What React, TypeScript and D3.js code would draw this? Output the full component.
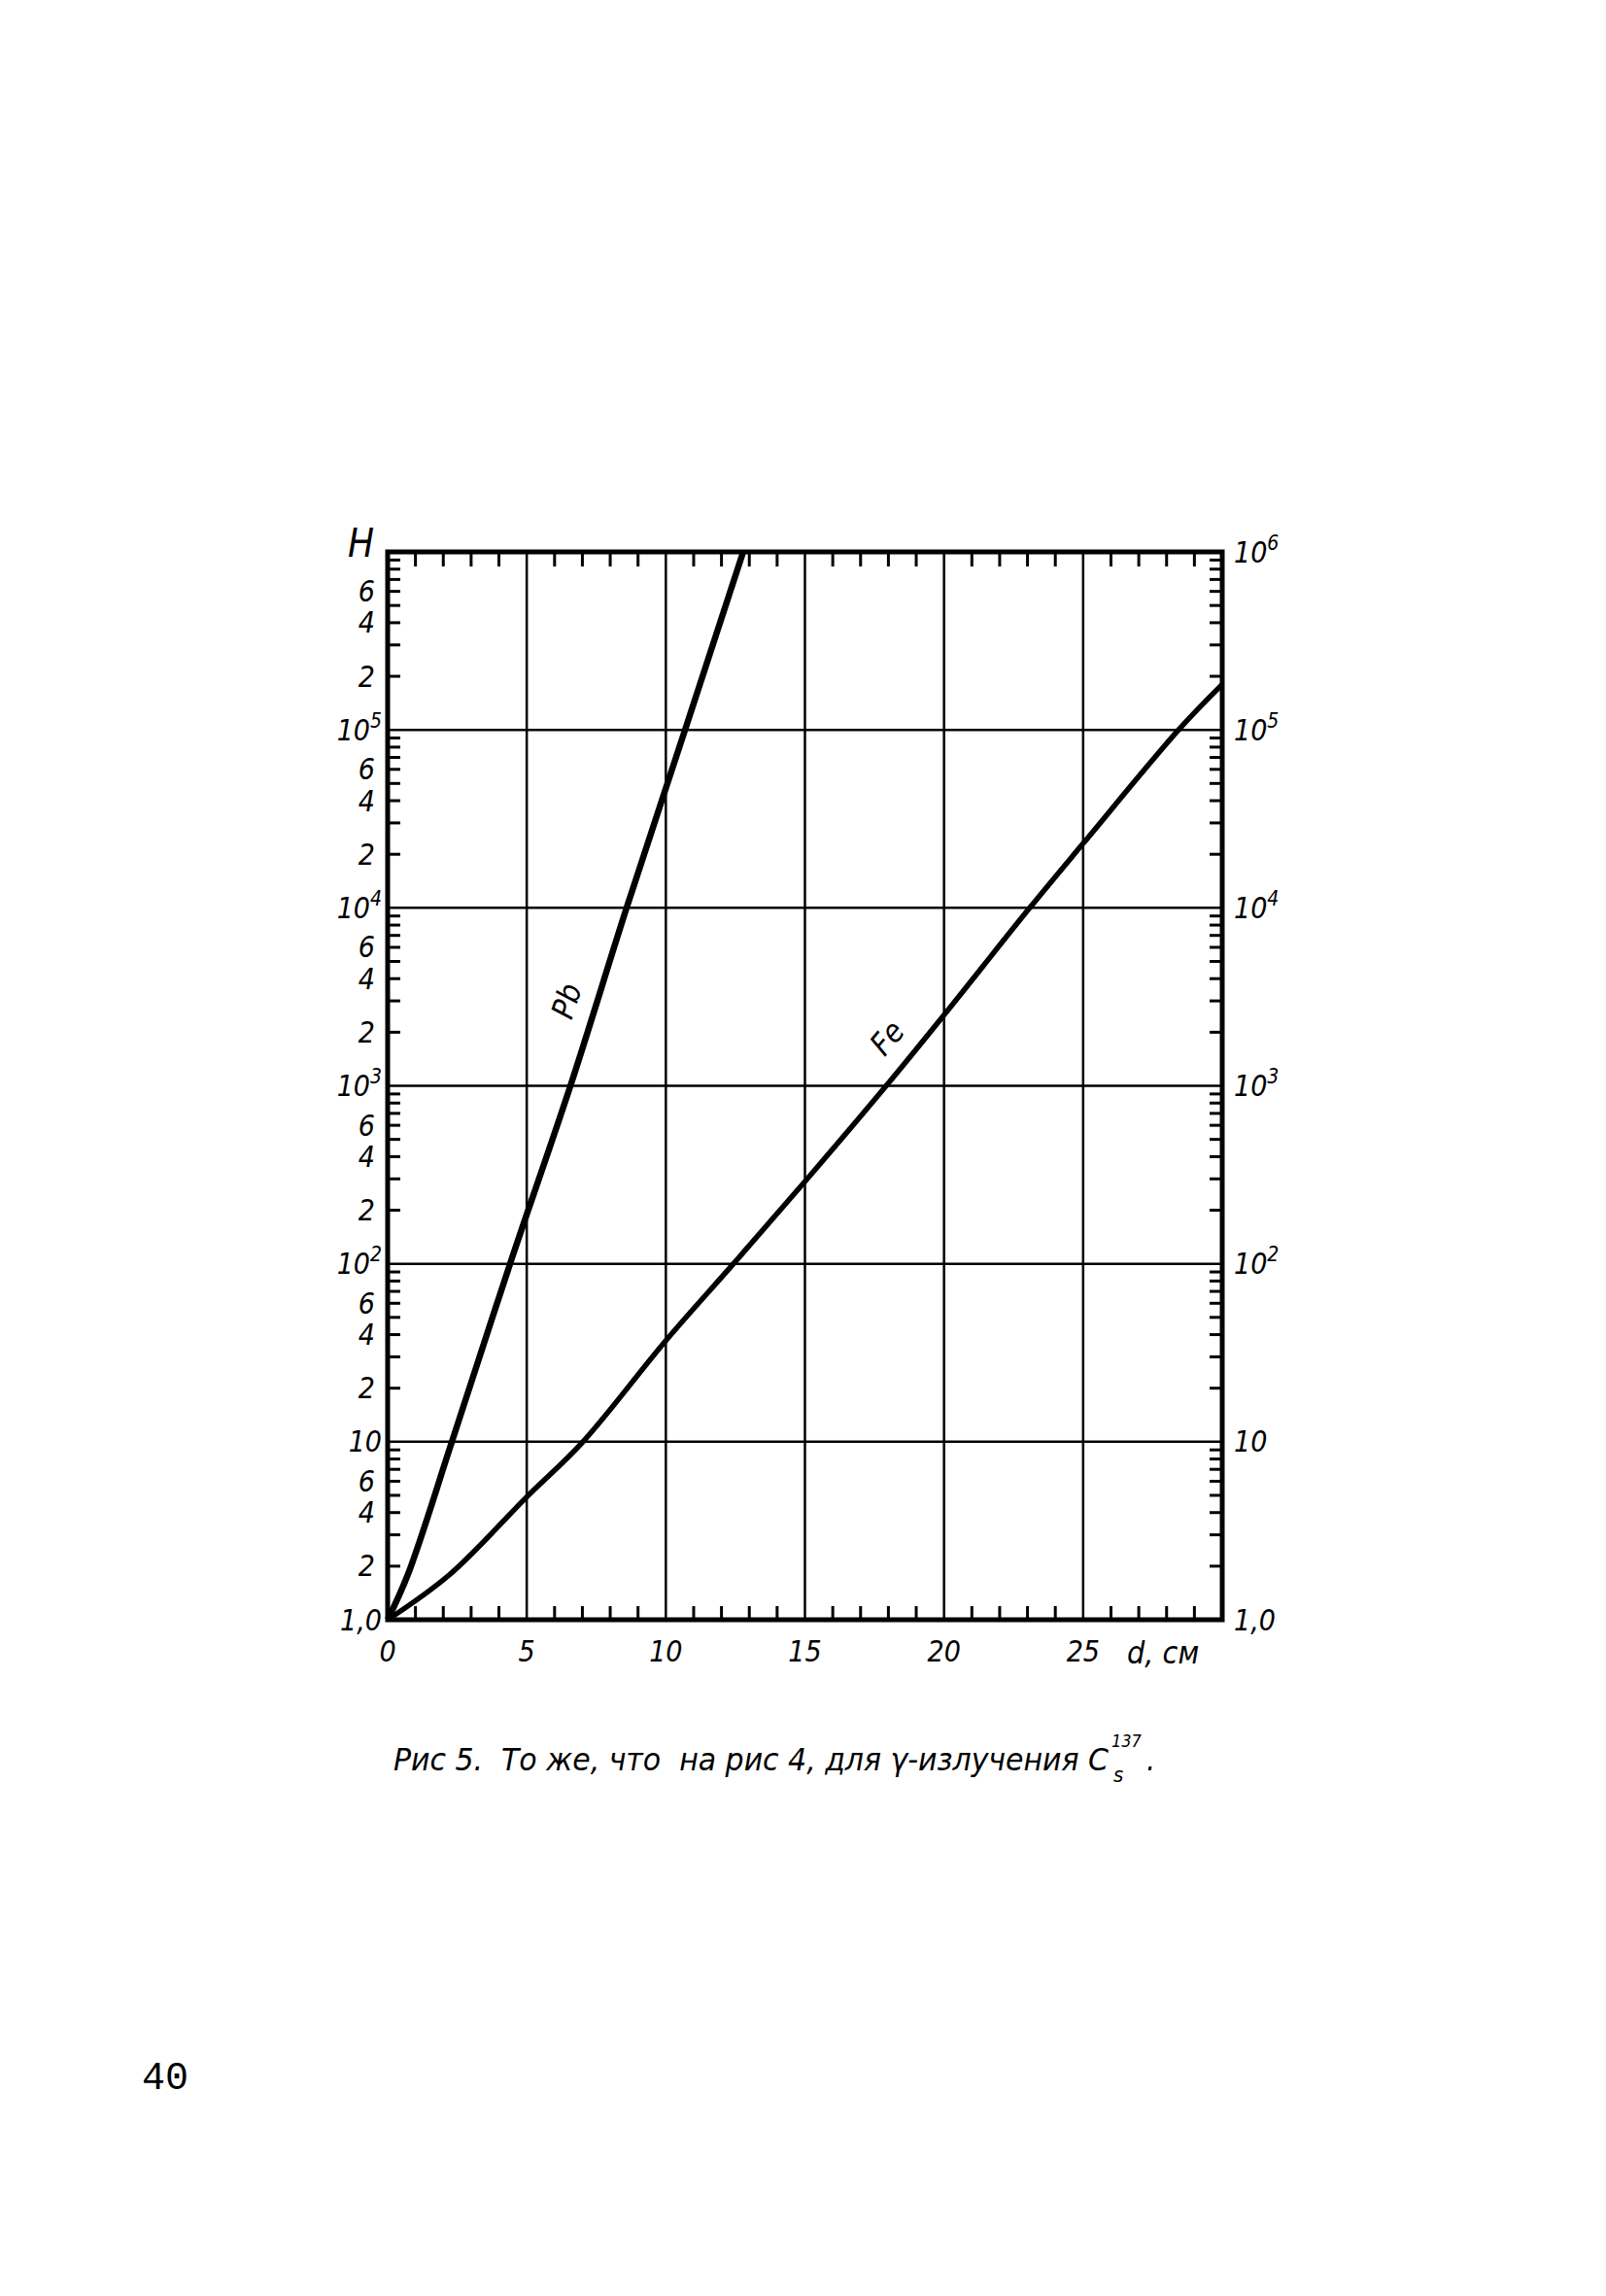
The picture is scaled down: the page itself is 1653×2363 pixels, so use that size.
import React from "react";
import * as d3 from "d3";

// ---- data ----
const pbThickness = [0, 0.73, 2.31, 4.4, 6.57, 8.59, 10.69, 12.78];
const pbFactor = [1, 1.8, 10, 100, 1000, 1e4, 1e5, 1e6];
const feThickness = [0, 2.24, 5, 7.02, 10, 12.43, 15, 17.92, 20, 23.08, 25, 28.43, 30];
const feFactor = [1, 1.8, 4.9, 10, 37, 100, 290, 1000, 2500, 1e4, 2.3e4, 1e5, 1.8e5];

const xTickValues = [0, 5, 10, 15, 20, 25];
const xGridValues = [5, 10, 15, 20, 25];
const decades = [1, 10, 100, 1000, 10000, 100000, 1000000];
const leftDigitMultipliers = [2, 4, 6];
const minorMultipliers = [2, 3, 4, 5, 6, 7, 8, 9];

const FONT = "'Liberation Sans Narrow', 'DejaVu Sans Condensed', 'DejaVu Sans', sans-serif";

function DecadeLabel({ v, x, y, anchor }: { v: number; x: number; y: number; anchor: string }) {
  const k = Math.round(Math.log10(v));
  if (k === 0)
    return (
      <text x={x} y={y} dy="0.35em" textAnchor={anchor} fontSize={30}>
        1,0
      </text>
    );
  if (k === 1)
    return (
      <text x={x} y={y} dy="0.35em" textAnchor={anchor} fontSize={30}>
        10
      </text>
    );
  return (
    <text x={x} y={y} dy="0.35em" textAnchor={anchor} fontSize={30}>
      10
      <tspan fontSize={21} dy={-13}>
        {k}
      </tspan>
    </text>
  );
}

export default function App() {
  const x = d3.scaleLinear().domain([0, 30]).range([399, 1258]);
  const y = d3.scaleLog().domain([1, 1e6]).range([1667, 568]);
  const [x0, x1] = x.range();
  const [yb, yt] = y.range();

  const line = d3
    .line<[number, number]>()
    .x((d) => x(d[0]))
    .y((d) => y(d[1]))
    .curve(d3.curveCatmullRom.alpha(0.5));

  const pb = pbThickness.map((d, i) => [d, pbFactor[i]] as [number, number]);
  const fe = feThickness.map((d, i) => [d, feFactor[i]] as [number, number]);

  const cmTicks = d3.range(1, 30).filter((d) => d % 5 !== 0);
  const minor: number[] = [];
  for (let k = 0; k < 6; k++) for (const m of minorMultipliers) minor.push(m * Math.pow(10, k));
  const leftDigits: { v: number; m: number }[] = [];
  for (let k = 0; k < 6; k++) for (const m of leftDigitMultipliers) leftDigits.push({ v: m * Math.pow(10, k), m });

  return (
    <svg
      width={1653}
      height={2363}
      style={{ position: "absolute", left: 0, top: 0, background: "#fff" }}
      fontFamily={FONT}
      fontStyle="italic"
      fontStretch="condensed"
    >
      <rect x={0} y={0} width={1653} height={2363} fill="#fff" />
      {/* grid */}
      <g stroke="#000" strokeWidth={2.5}>
        {xGridValues.map((v) => (
          <line key={"gx" + v} x1={x(v)} x2={x(v)} y1={yb} y2={yt} />
        ))}
        {decades.slice(1, -1).map((v) => (
          <line key={"gy" + v} x1={x0} x2={x1} y1={y(v)} y2={y(v)} />
        ))}
      </g>
      {/* minor ticks */}
      <g stroke="#000" strokeWidth={3}>
        {cmTicks.map((v) => (
          <g key={"ct" + v}>
            <line x1={x(v)} x2={x(v)} y1={yb} y2={yb - 14} />
            <line x1={x(v)} x2={x(v)} y1={yt} y2={yt + 15} />
          </g>
        ))}
        {minor.map((v) => (
          <g key={"mt" + v}>
            <line x1={x0} x2={x0 + 13} y1={y(v)} y2={y(v)} />
            <line x1={x1} x2={x1 - 13} y1={y(v)} y2={y(v)} />
          </g>
        ))}
      </g>
      {/* curves */}
      <path d={line(pb) || ""} fill="none" stroke="#000" strokeWidth={6.5} strokeLinejoin="round" />
      <path d={line(fe) || ""} fill="none" stroke="#000" strokeWidth={5.5} strokeLinejoin="round" />
      {/* frame */}
      <rect x={x0} y={yt} width={x1 - x0} height={yb - yt} fill="none" stroke="#000" strokeWidth={5} />

      {/* curve labels */}
      <text x={583} y={1030} fontSize={32} textAnchor="middle" dy="0.35em" transform="rotate(-72 583 1030)">
        Pb
      </text>
      <text x={913} y={1068} fontSize={32} textAnchor="middle" dy="0.35em" transform="rotate(-50 913 1068)">
        Fe
      </text>

      {/* left axis labels */}
      {decades.slice(0, -1).map((v) => (
        <DecadeLabel key={"ld" + v} v={v} x={393} y={y(v)} anchor="end" />
      ))}
      {leftDigits.map((o) => (
        <text key={"ldg" + o.v} x={386} y={y(o.v)} dy="0.35em" textAnchor="end" fontSize={30}>
          {o.m}
        </text>
      ))}
      <text x={385} y={573} textAnchor="end" fontSize={40}>
        H
      </text>

      {/* right axis labels */}
      {decades.map((v) => (
        <DecadeLabel key={"rd" + v} v={v} x={1270} y={y(v)} anchor="start" />
      ))}

      {/* x axis labels */}
      {xTickValues.map((v) => (
        <text key={"xl" + v} x={x(v)} y={1710} textAnchor="middle" fontSize={30}>
          {v}
        </text>
      ))}
      <text x={1160} y={1712} fontSize={32}>
        d, см
      </text>

      {/* caption */}
      <text x={405} y={1822} fontSize={32} textLength={736} lengthAdjust="spacingAndGlyphs">
        Рис 5.{"\u00a0\u00a0"}То же, что{"\u00a0\u00a0"}на рис 4, для γ-излучения C
      </text>
      <text x={1144} y={1798} fontSize={18}>
        137
      </text>
      <text x={1146} y={1834} fontSize={22}>
        s
      </text>
      <text x={1180} y={1822} fontSize={32}>
        .
      </text>

      {/* page number */}
      <text x={146} y={2150} fontSize={40} fontStyle="normal" fontStretch="normal" fontFamily="'Liberation Mono', 'DejaVu Sans Mono', monospace">
        40
      </text>
    </svg>
  );
}
